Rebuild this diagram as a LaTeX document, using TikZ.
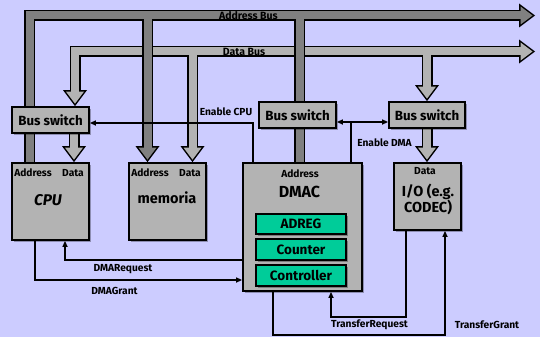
\documentclass[tikz,border=0pt]{standalone}
\usepackage{fontspec}
\setmainfont{Fira Sans}
\usetikzlibrary{arrows.meta,calc,shadows}

\definecolor{bg}{HTML}{CCCCFF}
\definecolor{addrgray}{HTML}{808080}
\definecolor{datagray}{HTML}{B3B3B3}
\definecolor{boxgray}{HTML}{B3B3B3}
\definecolor{regcol}{HTML}{00CC99}

\pgfdeclarelayer{back}
\pgfdeclarelayer{bus}
\pgfsetlayers{back,bus,main}

% arrow heads of the wide buses: #1 = path options, #2 = name of the tip coordinate
\newcommand\headdown[2]{\path[#1] ($(#2)+(0,-2.5)$) -- ++(-9,-12) -- ++(18,0) -- cycle;}
\newcommand\headright[2]{\path[#1] ($(#2)+(-2.5,0)$) -- ++(-12,-9) -- ++(0,18) -- cycle;}

\tikzset{
  busblack/.style={draw=black, line width=11pt, line join=miter},
  busfill/.style={draw=#1, line width=8pt, line join=miter},
  headline/.style={draw=black, line width=3pt, line join=miter},
  box/.style={draw=black, line width=1.8pt, fill=boxgray, inner sep=0pt,
    drop shadow={shadow xshift=1.6pt, shadow yshift=-1.6pt, fill=black, opacity=0.3}},
  reg/.style={box, fill=regcol, minimum width=90pt, font=\fontsize{13.5}{15}\selectfont\bfseries},
  swbox/.style={box, minimum width=77pt, minimum height=26pt, font=\fontsize{13.3}{15}\selectfont\bfseries},
  small/.style={inner sep=0pt, font=\fontsize{10.2}{12}\selectfont\bfseries},
  sig/.style={draw=black, line width=1.8pt},
  tip/.style={-{Triangle[length=6pt,width=5pt]}},
}

\begin{document}
\begin{tikzpicture}[x=1pt,y=-1pt]
\begin{pgfonlayer}{back}
  \fill[bg] (0,0) rectangle (540,337);
\end{pgfonlayer}
\useasboundingbox (0,0) rectangle (540,337);

% ---- units ----
\node[swbox] (bsL) at (50.5,120) {Bus switch};
\node[swbox] (bsM) at (297.5,115) {Bus switch};
\node[swbox, minimum width=76pt] (bsR) at (427,115) {Bus switch};

\node[box, minimum width=77pt, minimum height=77pt] (cpu) at (50.5,201.5) {};
\node[box, minimum width=77pt, minimum height=77pt] (mem) at (167.5,201.5) {};
\node[box, minimum width=119pt, minimum height=128pt] (dmac) at (302.5,227) {};
\node[box, minimum width=67pt, minimum height=67pt] (io) at (427.5,196.5) {};

\node[reg, minimum height=20pt] (adreg) at (301,224) {ADREG};
\node[reg, minimum height=21pt] (counter) at (301,249.5) {Counter};
\node[reg, minimum height=21pt] (ctrl) at (301,275.5) {Controller};

% texts inside the units
\node[small] (cpuA) at (33,173) {Address};
\node[small] (cpuD) at (73,173) {Data};
\node[inner sep=0pt, font=\fontsize{15.5}{17}\selectfont\bfseries\itshape] (cpuT) at (48,200) {CPU};
\node[small] (memA) at (150,173) {Address};
\node[small] (memD) at (190,173) {Data};
\node[inner sep=0pt, font=\fontsize{14.5}{16}\selectfont\bfseries] (memT) at (167,198) {memoria};
\node[small] (dmaA) at (300,174) {Address};
\node[inner sep=0pt, font=\fontsize{16}{17}\selectfont\bfseries] (dmaT) at (299.5,192) {DMAC};
\node[small] (ioD) at (425,171) {Data};
\node[inner sep=0pt, align=center, font=\fontsize{14.5}{15.5}\selectfont\bfseries] (ioT) at (428,199.5) {I/O (e.g.\\CODEC)};

% ---- bus end points ----
\coordinate (aCpu) at ([xshift=-21pt]cpu.north);
\coordinate (aCorner) at (29.5,15.5);
\coordinate (aRight) at (535,15.5);
\coordinate (aMem) at ([xshift=-20pt]mem.north);
\coordinate (aDma) at ([xshift=-3pt]dmac.north);

\coordinate (dLeft) at ([xshift=24.5pt]bsL.north);
\coordinate (dCorner) at (75,51.5);
\coordinate (dRight) at (535,51.5);
\coordinate (dMem) at ([xshift=25pt]mem.north);
\coordinate (dBsR) at (bsR.north);
\coordinate (dCpu) at ([xshift=23.5pt]cpu.north);
\coordinate (dIo) at (bsR.south |- io.north);

\begin{pgfonlayer}{bus}
  % data bus: outline first, then the grey body
  \draw[busblack] ($(dLeft)+(0,-13)$) -- (dCorner) -- ($(dRight)+(-13,0)$);
  \draw[busblack] (dMem |- dCorner) -- ($(dMem)+(0,-13)$);
  \draw[busblack] (dBsR |- dCorner) -- ($(dBsR)+(0,-13)$);
  \draw[busblack] (bsL.south -| dCpu) -- ($(dCpu)+(0,-13)$);
  \draw[busblack] (bsR.south) -- ($(dIo)+(0,-13)$);
  \foreach \t in {dLeft,dMem,dBsR,dCpu,dIo} {\headdown{headline}{\t}}
  \headright{headline}{dRight}
  \foreach \t in {dLeft,dMem,dBsR,dCpu,dIo} {\headdown{fill=datagray}{\t}}
  \headright{fill=datagray}{dRight}
  \draw[busfill=datagray] ($(dLeft)+(0,-13)$) -- (dCorner) -- ($(dRight)+(-13,0)$);
  \draw[busfill=datagray] (dMem |- dCorner) -- ($(dMem)+(0,-13)$);
  \draw[busfill=datagray] (dBsR |- dCorner) -- ($(dBsR)+(0,-13)$);
  \draw[busfill=datagray] (bsL.south -| dCpu) -- ($(dCpu)+(0,-13)$);
  \draw[busfill=datagray] (bsR.south) -- ($(dIo)+(0,-13)$);

  % address bus, lying over the data bus
  \draw[busblack] (aCpu) -- (aCorner) -- ($(aRight)+(-13,0)$);
  \draw[busblack] (aMem |- aCorner) -- ($(aMem)+(0,-13)$);
  \draw[busblack] (aDma |- aCorner) -- (aDma);
  \headdown{headline}{aMem}
  \headright{headline}{aRight}
  \headdown{fill=addrgray}{aMem}
  \headright{fill=addrgray}{aRight}
  \draw[busfill=addrgray] (aCpu) -- (aCorner) -- ($(aRight)+(-13,0)$);
  \draw[busfill=addrgray] (aMem |- aCorner) -- ($(aMem)+(0,-13)$);
  \draw[busfill=addrgray] (aDma |- aCorner) -- (aDma);
\end{pgfonlayer}

\node[small, font=\fontsize{10.5}{12}\selectfont\bfseries] (abLab) at (248.5,15.5) {Address Bus};
\node[small, font=\fontsize{10.5}{12}\selectfont\bfseries] (dbLab) at (244,51.5) {Data Bus};

% ---- control signals ----
\coordinate (enCpu) at ([xshift=11pt]dmac.north west);
\coordinate (enDma) at ([xshift=-12pt]dmac.north east);
\draw[sig, tip] (enCpu) |- ([yshift=-3pt]bsL.east);
\draw[sig, {Triangle[length=6pt,width=5pt]}-{Triangle[length=6pt,width=5pt]}] ([yshift=-7pt]bsM.east) -- ([yshift=-7pt]bsR.west);
\draw[sig] (enDma) -- (enDma |- 0,122);
\node[small] (enCpuLab) at (226,112) {Enable CPU};
\node[small] (enDmaLab) at (384.5,143) {Enable DMA};

\draw[sig, tip] ([yshift=-33pt]dmac.west) -| ([xshift=14.5pt]cpu.south);
\draw[sig, tip] ([xshift=-15.5pt]cpu.south) |- ([yshift=-53pt]dmac.west);
\node[small] (reqLab) at (123,269) {DMARequest};
\node[small] (grLab) at (114.5,291) {DMAGrant};

\draw[sig, tip] ([xshift=-21.5pt]io.south) -- ++(0,86) -| ([xshift=28.5pt]dmac.south);
\draw[sig, tip] ([xshift=-29.5pt]dmac.south) -- ++(0,43) -| ([xshift=17.5pt]io.south);
\node[small] (treqLab) at (369.5,325) {TransferRequest};
\node[small] (tgrLab) at (487,325) {TransferGrant};
\end{tikzpicture}
\end{document}
